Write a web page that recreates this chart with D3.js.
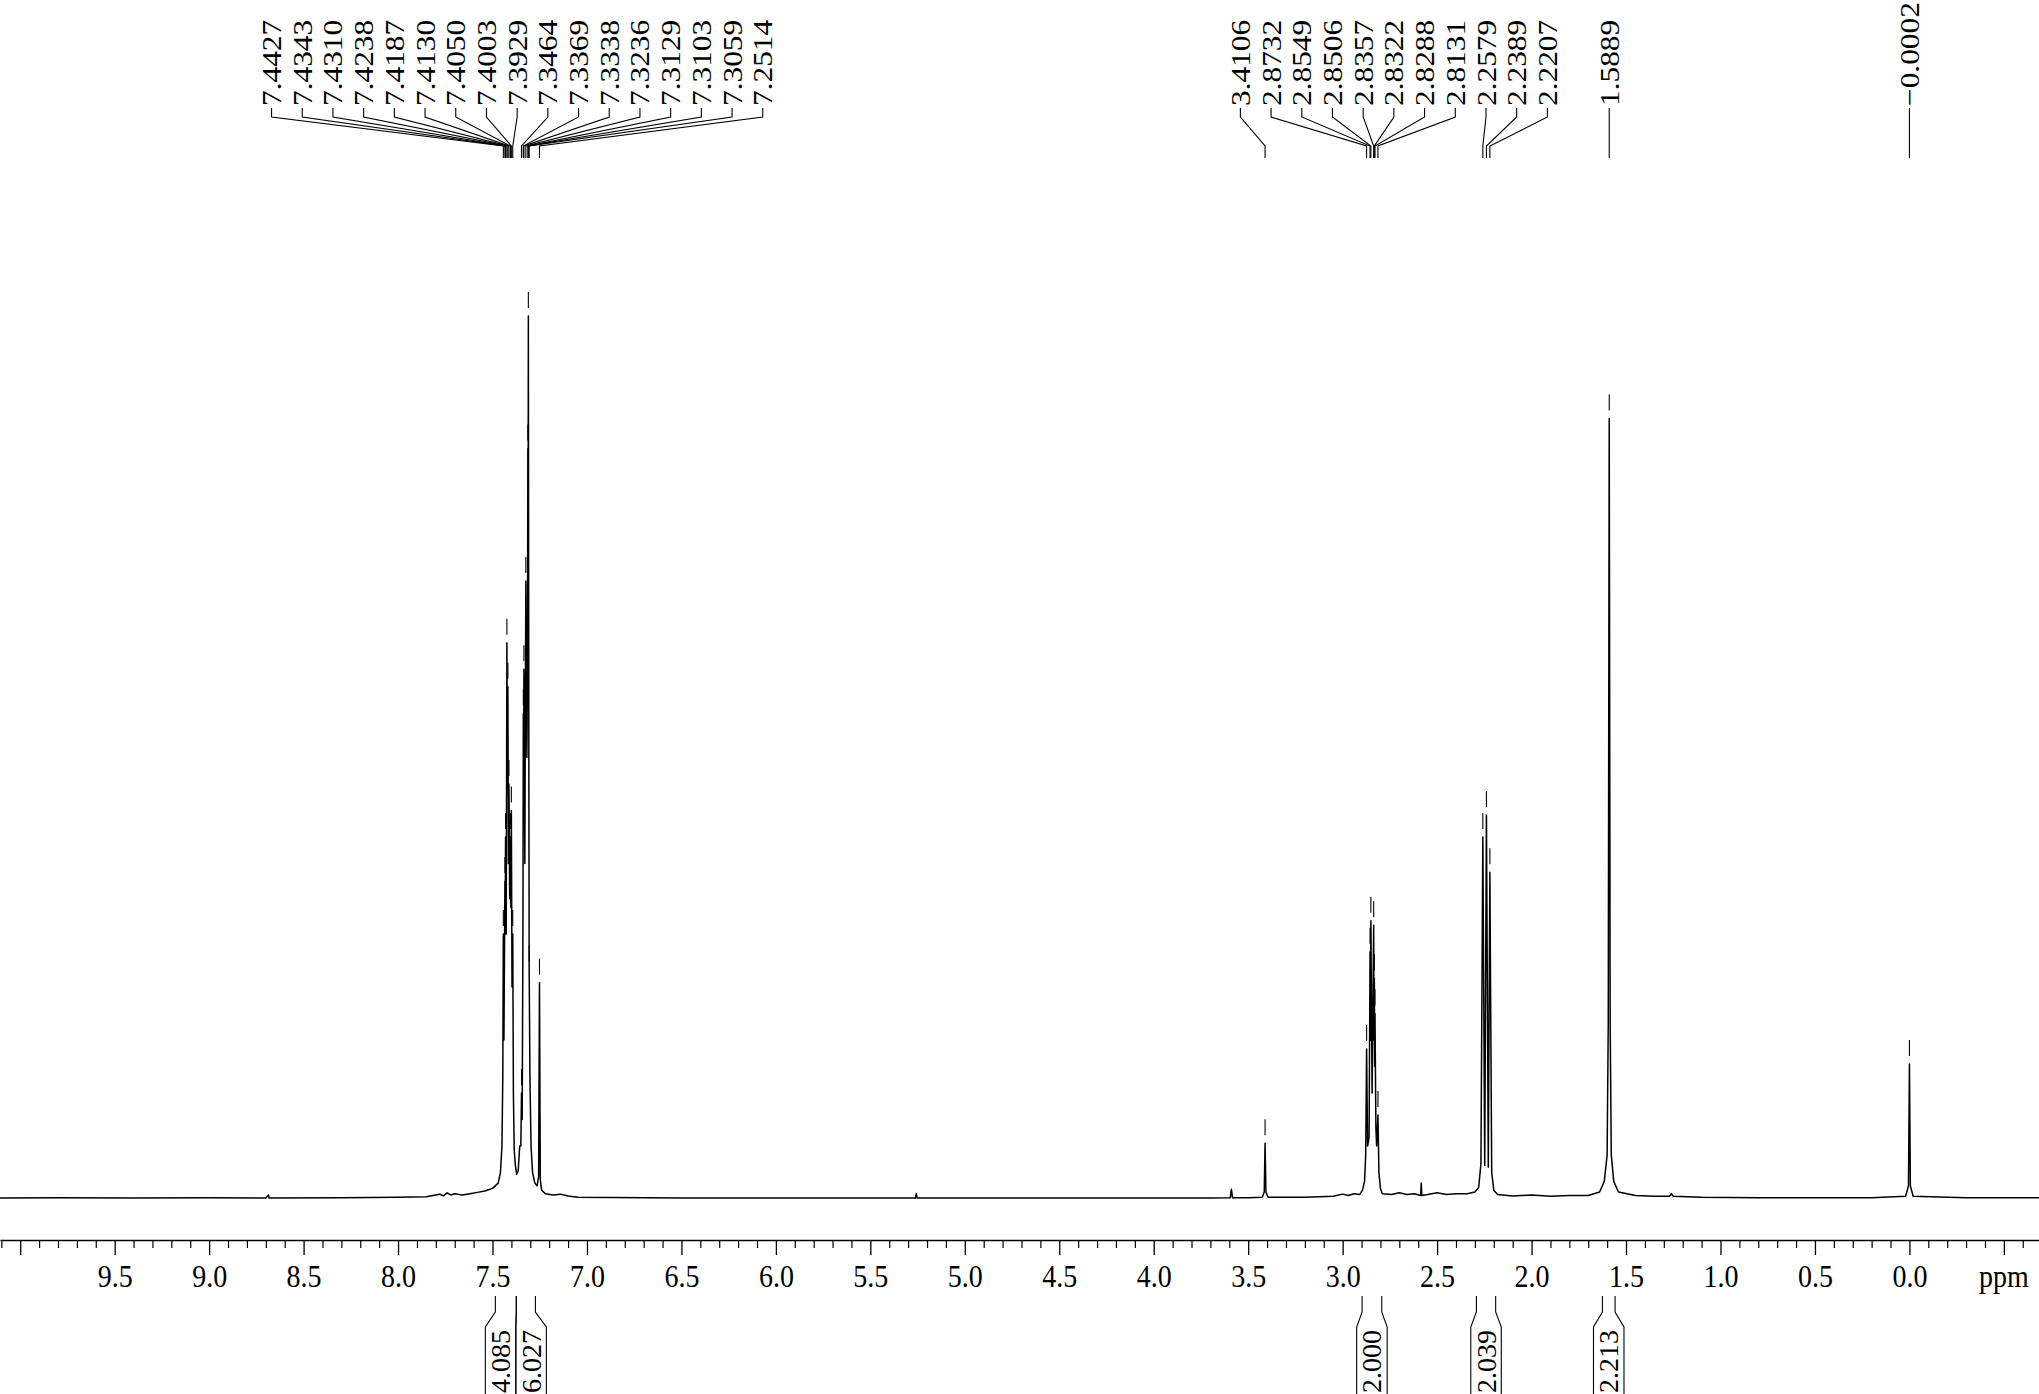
<!DOCTYPE html>
<html><head><meta charset="utf-8">
<script src="https://cdn.jsdelivr.net/npm/d3@7"></script>
<style>
body{margin:0;background:#fff}
svg{display:block;background:#fff}
text{font-family:"Liberation Serif","Times New Roman",serif;fill:#000}
</style>
</head><body>
<svg id="c" width="2039" height="1394"></svg>
<script>
// ---------------- DATA ----------------
// spectrum vertices (ppm, relative intensity; tallest line = 100)
const specPpm = [10.107,9.80,9.40,9.00,8.70,8.686,8.682,8.30,8.00,7.85,7.78,7.76,7.74,7.72,7.70,7.66,7.62,7.58,7.54,7.50,7.47,7.458,7.450,7.4455,
7.4427,7.4395,7.4343,7.4328,7.4310,7.4275,7.4238,7.4212,7.4187,7.4158,7.4130,7.4090,7.4050,7.4027,7.4003,7.3968,7.3929,7.3895,7.3850,7.3790,7.3720,7.3640,7.3560,7.3500,
7.3464,7.3430,7.3390,7.3369,7.3354,7.3338,7.3290,7.3236,7.3180,7.3150,7.3129,7.3116,7.3103,7.3080,7.3059,7.3020,7.2960,7.2880,7.2760,7.2640,7.2560,7.2514,7.2470,7.2400,
7.2200,7.1800,7.1400,7.1000,7.0500,6.50,6.00,5.50,5.262,5.257,5.252,5.00,4.50,4.00,3.70,3.595,3.589,3.583,3.50,3.425,3.415,3.4106,3.406,3.395,3.20,3.05,3.00,2.97,2.94,2.91,
2.895,2.884,2.878,2.8732,2.8680,2.8600,2.8549,2.8528,2.8506,2.8440,2.8357,2.8340,2.8322,2.8305,2.8288,2.8240,2.8200,2.8131,2.8080,2.8000,2.7900,2.7400,2.7000,2.6600,2.6200,
2.5870,2.5840,2.5810,2.5500,2.5000,2.4500,2.4000,2.3400,2.3000,2.2800,2.2680,2.2579,2.2480,2.2389,2.2290,2.2207,2.2110,2.2000,2.1800,2.1000,2.0000,1.9000,1.8000,1.7000,
1.6400,1.6150,1.6000,1.5940,1.5889,1.5840,1.5780,1.5650,1.5400,1.4500,1.3500,1.2700,1.2600,1.2500,1.1000,0.8000,0.5000,0.2000,0.0200,0.0050,-0.0002,-0.0050,-0.0200,-0.3000,-0.686];
const specInt = [0.10,0.15,0.10,0.15,0.10,0.45,0.10,0.15,0.20,0.25,0.55,0.35,0.70,0.45,0.60,0.45,0.60,0.75,0.90,1.20,1.80,3.0,6.0,14,
30,18,36,30,41,30,63,46,58,38,47,34,41,33,44,24,30,12,5.5,3.8,2.8,3.2,6.0,6.0,
12,9,30,55,45,60,38,70,50,60,85,75,100,55,26,14,6.0,3.0,1.8,1.5,2.5,24.5,2.2,1.0,
0.6,0.45,0.55,0.35,0.20,0.10,0.12,0.10,0.10,0.6,0.10,0.12,0.10,0.12,0.12,0.15,1.1,0.15,0.15,0.2,0.8,6.3,0.8,0.2,0.2,0.3,0.55,0.4,0.6,0.5,
1.0,2.0,5.0,17,6.0,7.0,28,18,31.5,12,31,18,25,15,21,8.0,6.0,9.5,3.0,1.2,0.6,0.5,0.7,0.5,0.6,
0.4,1.8,0.4,0.5,0.7,0.5,0.6,0.6,0.8,1.3,4.0,41,3.8,43.5,3.6,37,3.0,1.0,0.5,0.35,0.45,0.3,0.4,0.4,
0.8,2.0,5.0,20,88.4,20,5.0,2.0,0.8,0.4,0.3,0.3,0.6,0.3,0.2,0.15,0.15,0.15,0.3,1.5,15.3,1.5,0.3,0.15,0.15];

// picked peaks (labels at top)
const peakLabels = ["7.4427","7.4343","7.4310","7.4238","7.4187","7.4130","7.4050","7.4003","7.3929",
"7.3464","7.3369","7.3338","7.3236","7.3129","7.3103","7.3059","7.2514",
"3.4106","2.8732","2.8549","2.8506","2.8357","2.8322","2.8288","2.8131","2.2579","2.2389","2.2207",
"1.5889","\u22120.0002"];
const peakPpm = [7.4427,7.4343,7.4310,7.4238,7.4187,7.4130,7.4050,7.4003,7.3929,
7.3464,7.3369,7.3338,7.3236,7.3129,7.3103,7.3059,7.2514,
3.4106,2.8732,2.8549,2.8506,2.8357,2.8322,2.8288,2.8131,2.2579,2.2389,2.2207,
1.5889,-0.0002];

// integrals
const intFrom = [7.485,7.374,2.897,2.292,1.625];
const intTo   = [7.374,7.273,2.793,2.190,1.558];
const intLabels = ["4.085","6.027","2.000","2.039","2.213"];

// axis
const majorTicks = [10.0,9.5,9.0,8.5,8.0,7.5,7.0,6.5,6.0,5.5,5.0,4.5,4.0,3.5,3.0,2.5,2.0,1.5,1.0,0.5,0.0,-0.5];
const tickLabels = ["","9.5","9.0","8.5","8.0","7.5","7.0","6.5","6.0","5.5","5.0","4.5","4.0","3.5","3.0","2.5","2.0","1.5","1.0","0.5","0.0",""];
const axisUnit = "ppm";

// ---------------- LAYOUT ----------------
const W = 2039, H = 1394;
const baseY = 1199, topY = 316, axisY = 1240;
const FS = 28, SY = 1.12, SYA = 1.15;   // font size, vertical stretch of peak / axis lettering
const svg = d3.select("#c");

const x = d3.scaleLinear().domain([10.107,-0.686]).range([0,W]);
const y = d3.scaleLinear().domain([0,100]).range([baseY, topY]);

// spectrum line
const pts = specPpm.map((p,i)=>[p, specInt[i]]);
svg.append("path").datum(pts)
  .attr("d", d3.line().x(d=>x(d[0])).y(d=>y(d[1])))
  .attr("fill","none").attr("stroke","#000").attr("stroke-width",1.5)
  .attr("stroke-linejoin","round");

// axis
const labBase = 1287;
const gA = svg.append("g").attr("transform",`translate(0,${axisY})`)
  .call(d3.axisBottom(x).tickValues(majorTicks).tickSize(15).tickSizeOuter(0)
        .tickFormat((d,i)=>tickLabels[i]));
gA.attr("font-family",null).attr("font-size",null);
gA.select(".domain").attr("stroke","#000").attr("stroke-width",1.6);
gA.selectAll(".tick line").attr("stroke","#000").attr("stroke-width",1.3);
gA.selectAll(".tick text").attr("y",(labBase-axisY)/SYA).attr("dy",null)
  .attr("transform",`scale(1,${SYA})`).attr("font-size",FS).attr("fill","#000");
const minorTicks = d3.range(-6,102).map(i=>i/10).filter(v=>Math.abs(v*2-Math.round(v*2))>1e-6);
const gM = svg.append("g").attr("transform",`translate(0,${axisY})`)
  .call(d3.axisBottom(x).tickValues(minorTicks).tickSize(8).tickSizeOuter(0).tickFormat(""));
gM.select(".domain").remove();
gM.selectAll(".tick line").attr("stroke","#000").attr("stroke-width",1.2);
svg.append("text").attr("transform",`translate(${x(-0.5)},${labBase}) scale(1,${SYA})`)
  .attr("text-anchor","middle").attr("font-size",FS).text(axisUnit);

// spread labels in groups
function spread(centers, sp){
  let groups = centers.map((c,i)=>({idx:[i], c}));
  const pos = g => g.idx.map((_,k)=>g.c + (k-(g.idx.length-1)/2)*sp);
  let merged = true;
  while(merged){
    merged = false;
    for(let i=0;i<groups.length-1;i++){
      const a = pos(groups[i]), b = pos(groups[i+1]);
      if(a[a.length-1] + sp > b[0] + 1e-6){
        const idx = groups[i].idx.concat(groups[i+1].idx);
        const c = d3.mean(idx, j=>centers[j]);
        groups.splice(i,2,{idx,c});
        merged = true; break;
      }
    }
  }
  const out = [];
  groups.forEach(g=>pos(g).forEach((p,k)=>out[g.idx[k]]=p));
  return out;
}

// peak labels
const peakX = peakPpm.map(p=>x(p));
const labX = spread(peakX, 30.7);
const tBottom = 106, y1 = 108, y2 = 117, y3 = 146, y4 = 158;
const gP = svg.append("g");
peakLabels.forEach((t,i)=>{
  gP.append("text").attr("transform",`translate(${labX[i]},${tBottom}) scale(1,${SY}) rotate(-90)`)
    .attr("dy","0.34em").attr("font-size",FS).attr("text-anchor","start").text(t);
  gP.append("path").attr("d",`M${labX[i]},${y1}V${y2}L${peakX[i]},${y3}V${y4}`)
    .attr("fill","none").attr("stroke","#000").attr("stroke-width",1.1);
  const j = specPpm.findIndex(p=>Math.abs(p-peakPpm[i])<1e-6);
  const yt = y(specInt[j]);
  gP.append("line").attr("x1",peakX[i]).attr("x2",peakX[i]).attr("y1",yt-24).attr("y2",yt-8)
    .attr("stroke","#000").attr("stroke-width",1.1);
});

// integrals
const intC = intFrom.map((f,i)=>(x(f)+x(intTo[i]))/2);
const boxC = spread(intC, 30.5);
const iy1 = 1296, iy2 = 1312, iy3 = 1327;
const gI = svg.append("g");
intLabels.forEach((t,i)=>{
  const l = boxC[i]-15.25, r = boxC[i]+15.25;
  gI.append("path").attr("d",`M${x(intFrom[i])},${iy1}V${iy2}L${l},${iy3}V${H}M${x(intTo[i])},${iy1}V${iy2}L${r},${iy3}V${H}`)
    .attr("fill","none").attr("stroke","#000").attr("stroke-width",1.1);
  gI.append("text").attr("transform",`translate(${boxC[i]},${iy3+3}) rotate(-90)`)
    .attr("dy","0.34em").attr("font-size",FS).attr("text-anchor","end").text(t);
});
</script>
</body></html>
